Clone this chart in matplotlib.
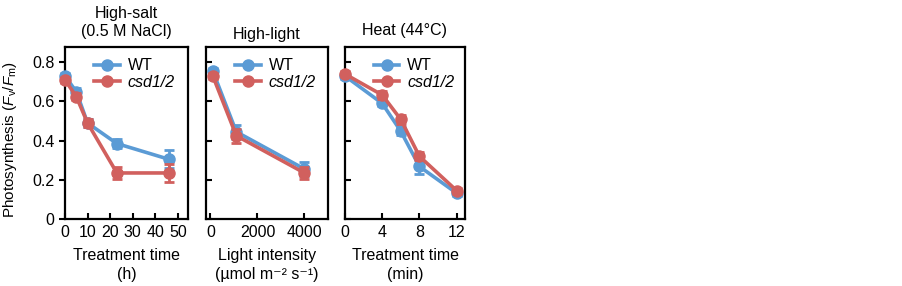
import matplotlib
matplotlib.use("Agg")
import matplotlib.pyplot as plt
from matplotlib.lines import Line2D

plt.rcParams['font.family'] = ['Liberation Sans', 'DejaVu Sans']
plt.rcParams['mathtext.fontset'] = 'custom'
plt.rcParams['mathtext.rm'] = 'Liberation Sans'
plt.rcParams['mathtext.it'] = 'Liberation Sans:italic'
plt.rcParams['font.size'] = 11.5

# Data
salt_x = [0, 5, 10, 23, 46]
salt_wt = [0.73, 0.65, 0.49, 0.385, 0.305]
salt_wt_err = [0.015, 0.02, 0.02, 0.025, 0.045]
salt_mut = [0.71, 0.625, 0.49, 0.235, 0.235]
salt_mut_err = [0.015, 0.02, 0.02, 0.03, 0.045]

light_x = [100, 1100, 4000]
light_wt = [0.755, 0.445, 0.255]
light_wt_err = [0.015, 0.035, 0.035]
light_mut = [0.73, 0.425, 0.235]
light_mut_err = [0.015, 0.035, 0.03]

heat_x = [0, 4, 6, 8, 12]
heat_wt = [0.73, 0.59, 0.448, 0.268, 0.132]
heat_wt_err = [0.015, 0.015, 0.02, 0.04, 0.015]
heat_mut = [0.74, 0.633, 0.508, 0.32, 0.145]
heat_mut_err = [0.015, 0.02, 0.025, 0.02, 0.015]

BLUE = '#5B9BD5'
RED = '#D1605E'

W, H = 902, 286
fig = plt.figure(figsize=(W/100, H/100), dpi=100)

def ax_at(x0, x1, y0, y1):
    return fig.add_axes([x0/W, 1 - y1/H, (x1-x0)/W, (y1-y0)/H])

axes = [ax_at(65, 188, 47, 219), ax_at(206, 328, 47, 219), ax_at(345, 465, 47, 219)]

datasets = [
    (salt_x, salt_wt, salt_wt_err, salt_mut, salt_mut_err),
    (light_x, light_wt, light_wt_err, light_mut, light_mut_err),
    (heat_x, heat_wt, heat_wt_err, heat_mut, heat_mut_err),
]

titles = ['High-salt\n(0.5 M NaCl)', 'High-light', 'Heat (44°C)']
title_pads = [8, 6, 9]
xlabels = ['Treatment time\n(h)', 'Light intensity\n(µmol m⁻² s⁻¹)', 'Treatment time\n(min)']
xlims = [(0, 54.5), (-190, 5000), (0, 12.9)]
xticks = [[0, 10, 20, 30, 40, 50], [0, 2000, 4000], [0, 4, 8, 12]]

for i, ax in enumerate(axes):
    x, wt, wte, mu, mue = datasets[i]
    kw = dict(marker='o', markersize=8, lw=2.6, capsize=3.5, elinewidth=2, capthick=2, clip_on=False)
    ax.errorbar(x, wt, yerr=wte, color=BLUE, zorder=3, **kw)
    ax.errorbar(x, mu, yerr=mue, color=RED, zorder=4, **kw)
    ax.set_xlim(*xlims[i])
    ax.set_ylim(0, 0.878)
    ax.set_xticks(xticks[i])
    ax.set_yticks([0, 0.2, 0.4, 0.6, 0.8])
    for s in ax.spines.values():
        s.set_linewidth(1.6)
    ax.tick_params(axis='x', direction='in', length=4, width=1.5, pad=4, labelsize=11.5)
    if i == 0:
        ax.set_yticklabels(['0', '0.2', '0.4', '0.6', '0.8'])
        ax.tick_params(axis='y', direction='out', length=4, width=1.5, labelsize=11.5)
        ax.set_ylabel('Photosynthesis ($\\mathit{F}_\\mathrm{v}/\\mathit{F}_\\mathrm{m}$)', fontsize=11)
        ax.yaxis.set_label_coords(-0.37, 0.46)
    else:
        ax.set_yticklabels([])
        ax.tick_params(axis='y', direction='in', length=4, width=1.5)
    ax.set_title(titles[i], fontsize=11.5, pad=title_pads[i], linespacing=1.25)
    ax.set_xlabel(xlabels[i], fontsize=11.5, linespacing=1.35, labelpad=6)
    handles = [Line2D([], [], color=BLUE, marker='o', markersize=8, lw=2.6),
               Line2D([], [], color=RED, marker='o', markersize=8, lw=2.6)]
    leg = ax.legend(handles, ['WT', 'csd1/2'], loc='upper left', bbox_to_anchor=(0.16, 0.99),
                    frameon=False, fontsize=11.5, handlelength=1.6, handletextpad=0.5,
                    labelspacing=0.1, borderaxespad=0.2)
    leg.get_texts()[1].set_fontstyle('italic')

fig.savefig('out.png', dpi=100)
